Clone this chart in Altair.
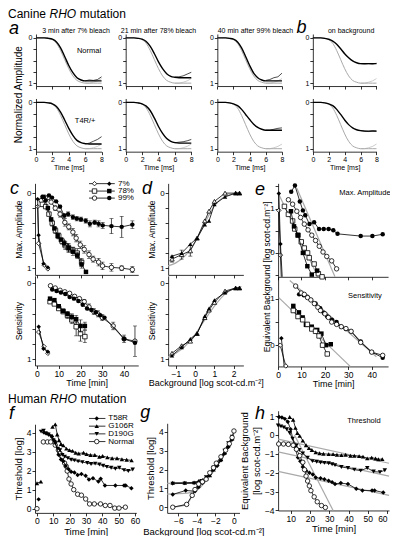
import altair as alt
import pandas as pd

# ===================== DATA =====================
# a / b : normalized waveforms (time in ms, 0 = baseline, 1 = full response)
wave_t = [0, 0.5, 1, 1.5, 2, 2.5, 3, 3.5, 4, 4.5, 5, 5.5, 6, 6.5, 7, 7.5, 8]
wave_grey = [0, 0, 0, 0.01, 0.04, 0.12, 0.28, 0.48, 0.68, 0.84, 0.94, 0.98, 1.0, 1.0, 1.0, 1.0, 1.0]
wave_a1_normal = [0, 0, 0, 0.01, 0.03, 0.09, 0.22, 0.41, 0.61, 0.77, 0.88, 0.93, 0.95, 0.95, 0.95, 0.95, 0.95]
wave_a1_t4r = [0, 0, 0, 0.01, 0.03, 0.09, 0.21, 0.38, 0.56, 0.71, 0.82, 0.87, 0.89, 0.9, 0.9, 0.9, 0.9]
wave_a2_normal = [0, 0, 0, 0.01, 0.03, 0.08, 0.19, 0.35, 0.53, 0.68, 0.79, 0.85, 0.87, 0.88, 0.88, 0.88, 0.88]
wave_a2_t4r = [0, 0, 0, 0.01, 0.03, 0.08, 0.18, 0.34, 0.52, 0.67, 0.78, 0.84, 0.87, 0.88, 0.88, 0.88, 0.88]
wave_a3_normal = [0, 0, 0, 0.01, 0.03, 0.09, 0.22, 0.41, 0.61, 0.78, 0.88, 0.93, 0.95, 0.95, 0.95, 0.95, 0.95]
wave_a3_t4r = [0, 0, 0, 0.01, 0.03, 0.07, 0.15, 0.26, 0.37, 0.47, 0.54, 0.58, 0.6, 0.6, 0.6, 0.6, 0.6]
wave_b_normal = [0, 0, 0, 0.01, 0.03, 0.07, 0.14, 0.24, 0.35, 0.44, 0.51, 0.55, 0.57, 0.57, 0.57, 0.57, 0.57]
wave_b_t4r = [0, 0, 0, 0.01, 0.03, 0.07, 0.15, 0.26, 0.38, 0.48, 0.55, 0.59, 0.61, 0.62, 0.62, 0.62, 0.62]
tail_t = [6, 6.5, 7, 7.5, 8]
tail_grey = [1.0, 1.0, 0.98, 0.95, 0.9]
tail_a1_normal = [0.95, 0.93, 0.94, 0.92, 0.86]
tail_a1_t4r = [0.9, 0.88, 0.84, 0.8, 0.74]
tail_a2_normal = [0.87, 0.86, 0.84, 0.8, 0.76]
tail_a2_t4r = [0.87, 0.86, 0.85, 0.83, 0.8]
tail_a3_normal = [0.94, 0.92, 0.88, 0.86, 0.78]
tail_a3_t4r = [0.6, 0.6, 0.58, 0.56, 0.55]
tail_b_normal = [0.57, 0.58, 0.57, 0.58, 0.56]
tail_b_t4r = [0.61, 0.62, 0.63, 0.61, 0.62]

# c : Max. amplitude (top) and sensitivity (bottom) vs time [min]
c_amp_7f_t = [0.3, 0.75, 3.0, 5.0]
c_amp_7f_v = [0.08, 0.56, 0.94, 0.99]
c_amp_7o_t = [0.3, 0.75, 3.3, 5.0]
c_amp_7o_v = [0.18, 0.67, 0.96, 1.01]
c_amp_78f_t = [3, 5, 6.5, 8, 9.5, 11, 12.5, 14.5, 16.5, 18.5, 20.5, 22.5]
c_amp_78f_v = [0.05, 0.2, 0.35, 0.47, 0.57, 0.62, 0.67, 0.73, 0.78, 0.83, 0.95, 1.05]
c_amp_78f_e = [0, 0, 0, 0, 0.03, 0, 0.04, 0.06, 0.05, 0.04, 0.05, 0]
c_amp_78o_t = [2.5, 4, 5.5, 7, 8.5, 10, 11.5, 13, 14.5, 16.5, 18.5, 20.5]
c_amp_78o_v = [0.15, 0.18, 0.28, 0.4, 0.5, 0.57, 0.64, 0.7, 0.73, 0.76, 0.8, 0.92]
c_amp_78o_e = [0, 0, 0, 0.04, 0.04, 0.04, 0.04, 0.05, 0.05, 0.04, 0.06, 0.05]
c_amp_99f_t = [2.5, 4, 5.5, 6.9, 8.8, 10.6, 12.5, 14.3, 16.5, 18.3, 20.2, 22.4, 24.3, 26.5, 28.3, 30.2, 34.2, 38.9, 43.8]
c_amp_99f_v = [0.05, 0.1, 0.03, 0.06, 0.11, 0.18, 0.3, 0.28, 0.32, 0.34, 0.35, 0.37, 0.41, 0.39, 0.41, 0.43, 0.44, 0.45, 0.42]
c_amp_99f_e = [0, 0, 0, 0, 0, 0.02, 0.03, 0.03, 0.03, 0.03, 0.03, 0.03, 0.04, 0.03, 0.04, 0.04, 0.1, 0.14, 0.05]
c_amp_99o_t = [2, 3.5, 5, 6.5, 8.4, 10.6, 12.8, 14.6, 16.5, 18, 19.9, 21.7, 23.9, 25.8, 28.3, 30.1, 34.2, 38.9, 43.8]
c_amp_99o_v = [0.1, 0.08, 0.06, 0.12, 0.2, 0.28, 0.39, 0.45, 0.52, 0.6, 0.69, 0.75, 0.82, 0.88, 0.92, 0.97, 0.99, 1.0, 1.02]
c_amp_99o_e = [0, 0, 0, 0, 0.03, 0.04, 0.05, 0.04, 0.05, 0.05, 0.05, 0.05, 0.05, 0.04, 0.05, 0.05, 0.05, 0.03, 0.04]

c_sen_7f_t = [0.8, 3.0, 5.0]
c_sen_7f_v = [0.57, 0.86, 0.9]
c_sen_7o_t = [0.8, 3.2, 5.0]
c_sen_7o_v = [0.64, 0.83, 0.92]
c_sen_78f_t = [6, 8, 10, 12, 14, 16, 18, 20, 22]
c_sen_78f_v = [0.2, 0.22, 0.3, 0.36, 0.4, 0.44, 0.47, 0.56, 0.56]
c_sen_78f_e = [0, 0, 0, 0, 0.03, 0.04, 0.05, 0.08, 0.05]
c_sen_78o_t = [6, 8, 10, 12, 14, 16, 18, 20, 22]
c_sen_78o_v = [0.24, 0.27, 0.33, 0.37, 0.42, 0.48, 0.57, 0.66, 0.7]
c_sen_78o_e = [0, 0, 0, 0.03, 0.04, 0.05, 0.12, 0.1, 0.08]
c_sen_99o_t = [6.2, 8.4, 10.6, 12.8, 15, 17.3, 19.5, 21.7, 23.9, 26.1, 28, 30, 35, 40, 45]
c_sen_99o_v = [0.03, 0.06, 0.09, 0.11, 0.13, 0.17, 0.2, 0.24, 0.31, 0.37, 0.4, 0.45, 0.56, 0.73, 0.76]
c_sen_99o_e = [0, 0, 0, 0, 0, 0, 0, 0.03, 0.04, 0.04, 0.04, 0.04, 0.05, 0.05, 0.2]
c_sen_99f_t = [7, 9, 11, 13, 15, 17, 19, 21, 23, 25, 27, 29, 31, 40, 45]
c_sen_99f_v = [0.08, 0.1, 0.12, 0.14, 0.18, 0.2, 0.23, 0.28, 0.33, 0.35, 0.38, 0.42, 0.45, 0.73, 0.78]

# d : vs background [log scot-cd m-2]
d_x = [-1.2, -0.7, -0.25, 0.1, 0.5, 0.72, 1.0, 1.55, 2.1, 2.3]
d_amp_open = [0.88, 0.82, 0.77, 0.6, 0.37, 0.24, 0.11, 0.0, 0.0, 0.0]
d_amp_fill = [0.84, 0.8, 0.68, 0.6, 0.42, 0.37, 0.15, 0.05, 0.0, 0.0]
d_amp_err = [0.04, 0.06, 0.07, 0, 0, 0, 0, 0, 0, 0]
d_sen_open = [0.92, 0.82, 0.76, 0.66, 0.45, 0.35, 0.25, 0.1, 0.06, 0.06]
d_sen_fill = [0.95, 0.84, 0.73, 0.66, 0.43, 0.33, 0.22, 0.12, 0.06, 0.06]
d_fit_x = [-1.4, -1.0, -0.5, 0.0, 0.5, 1.0, 1.5, 2.0, 2.4]
d_fit_amp = [0.97, 0.93, 0.83, 0.65, 0.4, 0.17, 0.05, 0.01, 0.0]
d_fit_sen = [0.97, 0.92, 0.82, 0.67, 0.48, 0.3, 0.15, 0.07, 0.04]

# e : equivalent background [log] vs time [min]
e_amp_7f_t = [0.3, 1.0]
e_amp_7f_v = [1.34, 0.2]
e_amp_7f_line_t = [0.3, 1.0, 1.75]
e_amp_7f_line_v = [1.34, 0.2, -0.54]
e_amp_7o_t = [0.3, 1.0]
e_amp_7o_v = [0.96, -0.05]
e_amp_7o_line_t = [0.3, 1.0, 1.34]
e_amp_7o_line_v = [0.96, -0.05, -0.54]
e_amp_78o_t = [2.7, 4.4, 6.2, 7.1, 8.5, 9.9, 11.2, 12.6, 13.3, 15.4, 17.2, 18.8]
e_amp_78o_v = [1.05, 0.87, 0.72, 0.54, 0.4, 0.25, 0.11, 0.0, -0.11, -0.25, -0.47, -0.54]
e_amp_78f_t = [5.5, 6.8, 8.5, 10.6, 12.5, 14.4, 16.7]
e_amp_78f_v = [0.94, 0.6, 0.4, 0.0, -0.3, -0.49, -0.4]
e_amp_99f_t = [5.6, 7.2, 9.3, 10.6, 11.6, 13.4, 15.4, 17.5, 19.5, 21.6, 23.6, 25.4, 35.3, 40.3, 44.7]
e_amp_99f_v = [1.38, 1.52, 1.16, 0.96, 0.85, 0.65, 0.69, 0.54, 0.54, 0.54, 0.51, 0.43, 0.38, 0.38, 0.42]
e_amp_99o_t = [4.4, 6.2, 8, 9.6, 11.2, 12.8, 14.4, 16, 17.6, 19.2, 20.8, 22.9, 25]
e_amp_99o_v = [1.2, 1.1, 0.94, 0.8, 0.65, 0.52, 0.4, 0.28, 0.15, 0.02, -0.08, -0.18, -0.36]
e_amp_fit78_t = [0.5, 17.0]
e_amp_fit78_v = [1.3, -0.54]
e_amp_fit99_t = [8.0, 24.3]
e_amp_fit99_v = [1.46, -0.54]

e_sen_7f_t = [1.4]
e_sen_7f_v = [0.15]
e_sen_7f_line_t = [1.4, 2.6]
e_sen_7f_line_v = [0.15, -0.46]
e_sen_7o_t = [0.9, 3.3]
e_sen_7o_v = [0.0, -0.45]
e_sen_78f_t = [6.5, 8.9, 10.5, 11.9, 14.4, 16.7, 18.5, 20.5, 22.5]
e_sen_78f_v = [0.85, 0.71, 0.6, 0.44, 0.4, 0.33, 0.25, 0.0, 0.02]
e_sen_78o_t = [6.5, 8.5, 10.5, 12.5, 14.4, 16, 17.5, 19, 21]
e_sen_78o_v = [0.75, 0.62, 0.55, 0.45, 0.35, 0.3, 0.2, 0.0, -0.19]
e_sen_99o_t = [7.5, 9.9, 11.2, 12.6, 14, 15.5, 17, 18.1, 20, 21.5, 22.9, 25, 27, 29, 31.2, 35.3, 40, 44.7]
e_sen_99o_v = [1.28, 1.13, 1.1, 1.03, 0.98, 0.9, 0.82, 0.75, 0.68, 0.6, 0.5, 0.45, 0.4, 0.36, 0.3, 0.06, -0.15, -0.22]
e_sen_99f_t = [9, 11, 12.5, 14, 16, 18, 19.5, 21, 23, 25, 27, 29, 31.2, 35.3, 40, 44.7]
e_sen_99f_v = [1.1, 1.08, 1.05, 0.98, 0.9, 0.8, 0.7, 0.62, 0.55, 0.5, 0.4, 0.35, 0.3, 0.08, -0.15, -0.27]
e_sen_fit78_t = [0.3, 30.8]
e_sen_fit78_v = [1.03, -0.46]
e_sen_fit99_t = [5.0, 42.0]
e_sen_fit99_v = [1.4, -0.25]

# f : human threshold [log] vs time [min]
f_pre_t58_t = [1.0]
f_pre_t58_v = [0.49]
f_pre_g106_t = [0, 2.4]
f_pre_g106_v = [1.34, 1.42]
f_pre_norm_t = [0]
f_pre_norm_v = [0]
f_t58_t = [4.3, 5.7, 7.2, 9.2, 11, 13.2, 14.7, 16.1, 17.6, 19.4, 20.9, 22.9, 24.9, 27.2, 29.8, 31.8, 34.3, 37.6, 39, 41.6, 48, 53.3, 54.3, 57.8]
f_t58_v = [4.0, 3.96, 3.9, 3.8, 3.55, 2.83, 2.59, 2.5, 2.25, 2.08, 1.94, 1.9, 1.77, 1.82, 1.73, 1.53, 1.6, 1.43, 1.57, 1.22, 1.22, 1.22, 1.22, 1.08]
f_g106_t = [9.5, 11.2, 12.4, 13.5, 14.7, 16.1, 18, 19.9, 21.8, 23.7, 25.6, 28.5, 30.4, 32.8, 35.4, 38.2, 40.2, 43.1, 46, 49, 52, 54.9, 57.9]
f_g106_v = [4.3, 4.43, 3.9, 3.6, 3.4, 3.33, 3.16, 3.08, 3.04, 2.94, 2.9, 2.94, 2.87, 2.82, 2.82, 2.73, 2.77, 2.7, 2.65, 2.65, 2.6, 2.57, 2.54]
f_d190_t = [2.5, 4, 5.5, 7, 8.5, 10, 11.2, 12.8, 14.1, 15.5, 17, 18.9, 20.9, 22.9, 25.2, 27.8, 30.8, 33.1, 35.6, 38.2, 40.5, 42.8, 45.4, 48, 50.4, 53.3, 55.9, 58.6]
f_d190_v = [4.05, 4.1, 3.95, 3.9, 3.8, 3.6, 3.42, 3.16, 3.08, 2.83, 2.74, 2.66, 2.57, 2.54, 2.49, 2.45, 2.4, 2.35, 2.37, 2.32, 2.26, 2.2, 2.15, 2.1, 2.15, 2.03, 1.98, 2.06]
f_norm_t = [3.9, 6.4, 8.4, 11.2, 13.1, 14.1, 15.5, 16.9, 17.9, 18.5, 19.6, 20.9, 22.5, 24.9, 27.2, 29.8, 32.2, 35.1, 38.9, 41.8, 44.7, 47.6, 50.2, 54.1]
f_norm_v = [3.51, 3.51, 3.51, 3.34, 3.08, 2.91, 2.74, 2.4, 2.23, 1.98, 1.56, 1.3, 1.0, 0.76, 0.71, 0.51, 0.25, 0.25, 0.25, 0.17, 0.17, 0.03, 0.03, 0.08]

# g : threshold vs background
g_norm_x = [-6.6, -5.1, -4.5, -4.2, -3.8, -3.4, -3.0, -2.6, -2.2, -1.9, -1.4, -0.9, -0.5, -0.2, 0.0]
g_norm_v = [0.0, 0.15, 0.63, 0.94, 1.23, 1.35, 1.49, 1.83, 2.1, 2.34, 2.68, 3.03, 3.37, 3.7, 4.05]
g_t58_x = [-6.6, -5.2, -4.2, -3.8, -3.4, -3.0, -2.6, -2.2, -1.8, -1.4, -1.0, -0.6, -0.2]
g_t58_v = [0.68, 0.89, 0.85, 1.07, 1.3, 1.5, 1.75, 2.0, 2.2, 2.5, 2.85, 3.2, 3.6]
g_g106_x = [-6.6, -5.3, -4.3, -3.8, -3.4, -3.0, -2.6, -2.2, -1.8, -1.4, -1.0, -0.6, -0.2]
g_g106_v = [1.3, 1.3, 1.32, 1.4, 1.45, 1.5, 1.7, 2.0, 2.3, 2.55, 2.9, 3.3, 3.65]
g_d190_x = [-6.6, -5.3, -4.3, -3.5, -3.0, -2.6, -2.2, -1.8, -1.4, -1.0, -0.6, -0.2]
g_d190_v = [1.25, 1.27, 1.27, 1.4, 1.6, 1.8, 2.1, 2.3, 2.6, 3.0, 3.4, 3.75]
g_fit_x = [-7.2, -5.0, -4.0, -3.0, -2.0, -1.0, -0.2]
g_fit_high_v = [1.27, 1.28, 1.32, 1.55, 2.1, 2.9, 3.65]
g_fit_t58_v = [0.7, 0.75, 0.9, 1.4, 2.05, 2.85, 3.6]

# h : equivalent background vs time
h_norm_t = [3.8, 6.3, 8.8, 11.3, 13, 14.7, 16.3, 17.2, 18, 18.8, 19.7, 20.5, 22.2, 23.8, 26, 28]
h_norm_v = [-0.48, -0.48, -0.5, -0.55, -0.76, -1.1, -1.45, -1.84, -2.18, -2.44, -2.7, -2.95, -3.28, -3.54, -3.74, -3.84]
h_t58_t = [4, 5.5, 7, 8.5, 10, 12, 13.8, 15, 16.3, 18, 19.7, 21.5, 23, 25.5, 27.5, 29.7, 31.5, 33, 36, 39.7, 44, 47.2, 52.2, 53.5, 58]
h_t58_v = [0.95, 0.92, 0.85, 0.7, 0.3, -0.6, -1.2, -1.4, -1.7, -1.9, -2.0, -2.1, -2.26, -2.3, -2.35, -2.43, -2.5, -2.6, -2.55, -2.6, -2.85, -2.94, -2.94, -2.94, -3.05]
h_g106_t = [9.5, 11.3, 12.5, 13.5, 14.7, 16.3, 18, 19.5, 21, 23, 25, 27, 29.7, 32, 34, 36.3, 38.5, 41, 43, 45.5, 47.5, 49.7, 52, 54, 55.5, 57.5]
h_g106_v = [0.95, 0.8, 0.37, 0.1, -0.05, -0.3, -0.55, -0.7, -0.8, -0.92, -0.97, -1.0, -1.02, -1.02, -1.05, -1.07, -1.05, -1.1, -1.1, -1.12, -1.15, -1.24, -1.2, -1.25, -1.29, -1.28]
h_d190_t = [3.5, 5, 6.5, 8, 9.5, 11, 13, 14.5, 16.3, 18.8, 21.3, 23.5, 25.5, 27.5, 29.7, 31.5, 33, 36.3, 39.7, 43, 46.3, 49.7, 53, 56.3, 58.8]
h_d190_v = [0.5, 0.45, 0.4, 0.3, 0.1, -0.2, -0.56, -0.8, -0.98, -1.2, -1.39, -1.42, -1.46, -1.48, -1.5, -1.55, -1.6, -1.7, -1.75, -1.84, -1.89, -1.75, -1.94, -1.97, -1.87]
h_fit_g106_t = [3.5, 61]
h_fit_g106_v = [-0.22, -1.5]
h_fit_d190_t = [3.5, 61]
h_fit_d190_v = [-0.9, -2.18]
h_fit_t58_t = [3.5, 61]
h_fit_t58_v = [-1.93, -3.2]
h_fit_fast_t = [12, 32]
h_fit_fast_v = [0.0, -4.0]

# ===================== LAYOUT =====================
FONT = "Liberation Sans"
GREY = "#a9a9a9"
W, H = 382, 528
SX = W / 396.0
SY = H / 548.0


def X(px):
    return (px - 1.0) * SX


def Y(py):
    return (py - 1.0) * SY


ONLY01 = "datum.value == 0 ? '0' : (datum.value == 1 ? '1' : '')"
AX = dict(grid=False, domainColor="black", tickColor="black", labelColor="black",
          titleColor="black", labelFont=FONT, titleFont=FONT, titleFontWeight="normal",
          domainWidth=0.8, tickWidth=0.8, tickSize=3, labelPadding=1,
          labelOverlap=False)


def x_axis(bottom_px, values, show, title, lsize, tsize, flush=False):
    return alt.Axis(orient="bottom", offset=Y(bottom_px) - H, values=values, labels=show,
                    labelFontSize=lsize, titleFontSize=tsize, titlePadding=1, title=title,
                    labelFlush=flush, **AX)


def y_axis(left_px, values, title, lsize, tsize, expr=None):
    kw = dict(AX)
    if expr:
        kw["labelExpr"] = expr
    return alt.Axis(orient="left", offset=-X(left_px), values=values, labelFontSize=lsize,
                    titleFontSize=tsize, titlePadding=3, title=title, labelFlush=False, **kw)


class Panel:
    def __init__(self, xdom, xpx, ydom, ypx, xax, yax):
        self.xs = alt.Scale(domain=xdom, range=[X(xpx[0]), X(xpx[1])], nice=False, zero=False)
        self.ys = alt.Scale(domain=ydom, range=[Y(ypx[0]), Y(ypx[1])], nice=False, zero=False)
        self.xax, self.yax = xax, yax
        self.layers = []

    def add(self, base, ycol="y", **extra):
        first = len(self.layers) == 0
        enc = dict(x=alt.X("x:Q", scale=self.xs, axis=self.xax if first else None),
                   y=alt.Y(ycol + ":Q", scale=self.ys, axis=self.yax if first else None))
        enc.update(extra)
        self.layers.append(base.encode(**enc))

    def line(self, xs, ys, color="black", width=0.8, smooth=False):
        df = pd.DataFrame({"x": xs, "y": ys})
        kw = dict(color=color, strokeWidth=width)
        if smooth:
            kw["interpolate"] = "monotone"
        self.add(alt.Chart(df).mark_line(**kw))

    def points(self, xs, ys, shape, filled, size=20):
        df = pd.DataFrame({"x": xs, "y": ys})
        if filled:
            m = alt.Chart(df).mark_point(shape=shape, filled=True, color="black", size=size, opacity=1)
        else:
            m = alt.Chart(df).mark_point(shape=shape, filled=True, fill="white", stroke="black",
                                         strokeWidth=0.8, size=size, opacity=1)
        self.add(m)

    def errbars(self, xs, ys, es):
        rows = [(x, y - e, y + e) for x, y, e in zip(xs, ys, es) if e > 0]
        if not rows:
            return
        df = pd.DataFrame(rows, columns=["x", "lo", "hi"])
        self.add(alt.Chart(df).mark_rule(color="black", strokeWidth=0.7), ycol="lo", y2=alt.Y2("hi:Q"))
        caps = pd.DataFrame([(x, v) for x, lo, hi in rows for v in (lo, hi)], columns=["x", "y"])
        self.add(alt.Chart(caps).mark_tick(color="black", thickness=0.7, size=4, orient="horizontal"))

    def series(self, t, v, shape, filled, err=None, size=20, lw=0.8):
        if err is not None:
            self.errbars(t, v, err)
        self.line(t, v, width=lw)
        self.points(t, v, shape, filled, size)


layers = []

# ---------- a / b ----------
col_x0 = [30, 123, 218, 317]
col_x1 = [98, 191, 285, 383]
rows_px = [(28, 82), (94.9, 150.1)]
waves = [
    [(wave_a1_normal, tail_a1_normal), (wave_a1_t4r, tail_a1_t4r)],
    [(wave_a2_normal, tail_a2_normal), (wave_a2_t4r, tail_a2_t4r)],
    [(wave_a3_normal, tail_a3_normal), (wave_a3_t4r, tail_a3_t4r)],
    [(wave_b_normal, tail_b_normal), (wave_b_t4r, tail_b_t4r)],
]
for ci in range(4):
    for ri in range(2):
        top, bot = rows_px[ri]
        xa = x_axis(bot, [0, 2, 4, 6, 8], ri == 1, "Time [ms]" if ri == 1 else None, 7, 7)
        ya = y_axis(col_x0[ci], [0, 0.25, 0.5, 0.75, 1], None, 7, 7, ONLY01)
        p = Panel([0, 8], (col_x0[ci], col_x1[ci]), [-0.085, 1.064], (top, bot), xa, ya)
        w, tl = waves[ci][ri]
        p.line(wave_t, wave_grey, color=GREY, width=1.0, smooth=True)
        p.line(tail_t, tail_grey, color=GREY, width=0.6)
        p.line(wave_t, w, width=1.4, smooth=True)
        p.line(tail_t, tl, width=0.7)
        layers.extend(p.layers)

# ---------- c ----------
C_X = ([-0.9, 46.5], (29, 136))
ticks01 = [0, 0.2, 0.4, 0.6, 0.8, 1]
p = Panel(C_X[0], C_X[1], [-0.13, 1.09], (183, 278),
          x_axis(278, [0, 10, 20, 30, 40], False, None, 8, 9),
          y_axis(29, ticks01, "Max. Amplitude", 8, 8.5, ONLY01))
p.series(c_amp_99o_t, c_amp_99o_v, "circle", False, c_amp_99o_e)
p.series(c_amp_99f_t, c_amp_99f_v, "circle", True, c_amp_99f_e)
p.series(c_amp_78o_t, c_amp_78o_v, "square", False, c_amp_78o_e)
p.series(c_amp_78f_t, c_amp_78f_v, "square", True, c_amp_78f_e)
p.series(c_amp_7o_t, c_amp_7o_v, "diamond", False)
p.series(c_amp_7f_t, c_amp_7f_v, "diamond", True)
layers.extend(p.layers)

p = Panel(C_X[0], C_X[1], [-0.1, 1.08], (279, 372),
          x_axis(372, [0, 10, 20, 30, 40], True, "Time [min]", 8.5, 9),
          y_axis(29, ticks01, "Sensitivity", 8, 8.5, ONLY01))
p.series(c_sen_99o_t, c_sen_99o_v, "circle", False, c_sen_99o_e)
p.series(c_sen_99f_t, c_sen_99f_v, "circle", True)
p.series(c_sen_78o_t, c_sen_78o_v, "square", False, c_sen_78o_e)
p.series(c_sen_78f_t, c_sen_78f_v, "square", True, c_sen_78f_e)
p.series(c_sen_7o_t, c_sen_7o_v, "diamond", False)
p.series(c_sen_7f_t, c_sen_7f_v, "diamond", True)
layers.extend(p.layers)

# ---------- d ----------
D_X = ([-1.4, 2.5], (167, 245))
p = Panel(D_X[0], D_X[1], [-0.13, 1.09], (183, 278),
          x_axis(278, [-1, 0, 1, 2], False, None, 8, 9),
          y_axis(167, ticks01, "Max. Amplitude", 8, 8.5, ONLY01))
p.line(d_fit_x, d_fit_amp, color=GREY, width=1.2, smooth=True)
p.series(d_x, d_amp_open, "triangle-up", False, d_amp_err)
p.series(d_x, d_amp_fill, "triangle-up", True)
layers.extend(p.layers)

p = Panel(D_X[0], D_X[1], [-0.1, 1.08], (279, 372),
          x_axis(372, [-1, 0, 1, 2], True, "Background [log scot-cd.m\u207b\u00b2]", 8.5, 9),
          y_axis(167, ticks01, "Sensitivity", 8, 8.5, ONLY01))
p.line(d_fit_x, d_fit_sen, color=GREY, width=1.2, smooth=True)
p.series(d_x, d_sen_open, "triangle-up", False)
p.series(d_x, d_sen_fill, "triangle-up", True)
layers.extend(p.layers)

# ---------- e ----------
E_X = ([0, 47], (281, 395))
ticksE = [-0.5, 0, 0.5, 1, 1.5]
p = Panel(E_X[0], E_X[1], [-0.54, 1.57], (280, 183),
          x_axis(280, [0, 10, 20, 30, 40], False, None, 8, 9),
          y_axis(281, ticksE, None, 8, 9, ONLY01))
p.line(e_amp_fit78_t, e_amp_fit78_v, color=GREY, width=1.2)
p.line(e_amp_fit99_t, e_amp_fit99_v, color=GREY, width=1.2)
p.series(e_amp_99f_t, e_amp_99f_v, "circle", True)
p.series(e_amp_99o_t, e_amp_99o_v, "circle", False)
p.series(e_amp_78o_t, e_amp_78o_v, "square", False)
p.series(e_amp_78f_t, e_amp_78f_v, "square", True)
p.line(e_amp_7o_line_t, e_amp_7o_line_v)
p.points(e_amp_7o_t, e_amp_7o_v, "diamond", False)
p.line(e_amp_7f_line_t, e_amp_7f_line_v)
p.points(e_amp_7f_t, e_amp_7f_v, "diamond", True)
layers.extend(p.layers)

p = Panel(E_X[0], E_X[1], [-0.46, 1.48], (373, 280),
          x_axis(373, [0, 10, 20, 30, 40], True, "Time [min]", 8.5, 9),
          y_axis(281, ticksE, None, 8, 9, ONLY01))
p.line(e_sen_fit78_t, e_sen_fit78_v, color=GREY, width=1.2)
p.line(e_sen_fit99_t, e_sen_fit99_v, color=GREY, width=1.2)
p.series(e_sen_99f_t, e_sen_99f_v, "circle", True)
p.series(e_sen_99o_t, e_sen_99o_v, "circle", False)
p.series(e_sen_78f_t, e_sen_78f_v, "square", True)
p.series(e_sen_78o_t, e_sen_78o_v, "square", False)
p.line(e_sen_7f_line_t, e_sen_7f_line_v)
p.points(e_sen_7f_t, e_sen_7f_v, "diamond", True)
p.series(e_sen_7o_t, e_sen_7o_v, "diamond", False)
layers.extend(p.layers)

# ---------- f ----------
p = Panel([-1.2, 60.8], (29, 134), [-0.22, 4.44], (525, 433),
          x_axis(525, [0, 10, 20, 30, 40, 50, 60], True, "Time [min]", 8.5, 9.5),
          y_axis(29, [0, 1, 2, 3, 4], "Threshold [log]", 8.5, 9.5))
p.series(f_norm_t, f_norm_v, "circle", False)
p.series(f_g106_t, f_g106_v, "triangle-up", True)
p.series(f_d190_t, f_d190_v, "triangle-down", True)
p.series(f_t58_t, f_t58_v, "diamond", True)
p.points(f_pre_norm_t, f_pre_norm_v, "circle", False)
p.series(f_pre_g106_t, f_pre_g106_v, "triangle-up", True)
p.points(f_pre_t58_t, f_pre_t58_v, "diamond", True)
layers.extend(p.layers)

# ---------- g ----------
p = Panel([-7.2, 0.6], (166, 241), [-0.3, 4.46], (525, 432),
          x_axis(525, [-6, -4, -2, 0], True, "Background [log scot-cd.m\u207b\u00b2]", 8.5, 9.5),
          y_axis(166, [0, 1, 2, 3, 4], "Threshold [log]", 8.5, 9.5))
p.line(g_norm_x, g_norm_v, color=GREY, width=1.2, smooth=True)
p.line(g_fit_x, g_fit_high_v, color=GREY, width=1.2, smooth=True)
p.line(g_fit_x, g_fit_t58_v, color=GREY, width=1.2, smooth=True)
p.series(g_g106_x, g_g106_v, "triangle-up", True)
p.series(g_d190_x, g_d190_v, "triangle-down", True)
p.series(g_t58_x, g_t58_v, "diamond", True)
p.series(g_norm_x, g_norm_v, "circle", False)
layers.extend(p.layers)

# ---------- h ----------
p = Panel([3.5, 61], (281, 396), [-4.0, 1.28], (522.5, 419),
          x_axis(522.5, [10, 20, 30, 40, 50, 60], True, "Time [min]", 8.5, 9.5, flush=5),
          y_axis(281, [-4, -3, -2, -1, 0, 1], ["Equivalent Background", "[log scot-cd.m\u207b\u00b2]"], 8.5, 9.5))
p.line(h_fit_g106_t, h_fit_g106_v, color=GREY, width=1.2)
p.line(h_fit_d190_t, h_fit_d190_v, color=GREY, width=1.2)
p.line(h_fit_t58_t, h_fit_t58_v, color=GREY, width=1.2)
p.line(h_fit_fast_t, h_fit_fast_v, color=GREY, width=1.2)
p.series(h_g106_t, h_g106_v, "triangle-up", True)
p.series(h_d190_t, h_d190_v, "triangle-down", True)
p.series(h_t58_t, h_t58_v, "diamond", True)
p.series(h_norm_t, h_norm_v, "circle", False)
layers.extend(p.layers)


# ---------- annotations (layout, in reference pixels) ----------
def texts(rows, size, italic=False, angle=0, align="center", baseline="middle"):
    df = pd.DataFrame(rows, columns=["px", "py", "label"])
    df["px"] = df["px"].map(X)
    df["py"] = df["py"].map(Y)
    kw = dict(font=FONT, fontSize=size, align=align, baseline=baseline, color="black")
    if italic:
        kw["fontStyle"] = "italic"
    if angle:
        kw["angle"] = angle
    return alt.Chart(df).mark_text(**kw).encode(
        x=alt.X("px:Q", scale=None, axis=None), y=alt.Y("py:Q", scale=None, axis=None), text="label:N")


def px_rules(rows):
    df = pd.DataFrame(rows, columns=["x1", "x2", "y"])
    df["x1"] = df["x1"].map(X)
    df["x2"] = df["x2"].map(X)
    df["y"] = df["y"].map(Y)
    return alt.Chart(df).mark_rule(color="black", strokeWidth=0.8).encode(
        x=alt.X("x1:Q", scale=None, axis=None), x2="x2:Q", y=alt.Y("y:Q", scale=None, axis=None))


def px_points(rows, shape, filled, size=20):
    df = pd.DataFrame(rows, columns=["x", "y"])
    df["x"] = df["x"].map(X)
    df["y"] = df["y"].map(Y)
    if filled:
        m = alt.Chart(df).mark_point(shape=shape, filled=True, color="black", size=size, opacity=1)
    else:
        m = alt.Chart(df).mark_point(shape=shape, filled=True, fill="white", stroke="black",
                                     strokeWidth=0.8, size=size, opacity=1)
    return m.encode(x=alt.X("x:Q", scale=None, axis=None), y=alt.Y("y:Q", scale=None, axis=None))


ann = []
ann.append(texts([(1, 11.5, "Canine"), (1, 411, "Human")], 12, align="left", baseline="alphabetic"))
ann.append(texts([(44.0, 11.5, "RHO"), (44.6, 411, "RHO")], 12, italic=True, align="left", baseline="alphabetic"))
ann.append(texts([(75.5, 11.5, "mutation"), (76.1, 411, "mutation")], 12, align="left", baseline="alphabetic"))
ann.append(texts([(2, 28, "a"), (300, 27, "b"), (3, 194, "c"), (140, 194, "d"), (257, 195, "e"),
                  (2, 428, "f"), (138, 427, "g"), (257, 428, "h")], 18, italic=True,
                 align="left", baseline="alphabetic"))
ann.append(texts([(71.5, 25, "3 min after 7% bleach"), (157, 25, "21 min after 78% bleach"),
                  (257.5, 25, "40 min after 99% bleach"), (356.7, 25, "on background")], 7))
ann.append(texts([(85, 46, "Normal"), (81, 118, "T4R/+")], 7.5))
ann.append(texts([(12, 91, "Normalized Amplitude")], 10, angle=270))
ann.append(texts([(371, 193, "Max. Amplitude"), (371, 300, "Sensitivity"), (370, 430, "Threshold")], 7.5))
ann.append(texts([(270, 280, "Equivalent Background [log scot-cd.m\u207b\u00b2]")], 8.5, angle=270))
c_leg_y = [183.3, 191, 198.3]
ann.append(px_rules([(85, 111.7, y) for y in c_leg_y]))
for y, shp in zip(c_leg_y, ["diamond", "square", "circle"]):
    ann.append(px_points([(90.7, y)], shp, False))
    ann.append(px_points([(106, y)], shp, True))
ann.append(texts([(115, c_leg_y[0], "7%"), (115, c_leg_y[1], "78%"), (115, c_leg_y[2], "99%")], 8, align="left"))
f_leg_y = [427, 435, 443, 451]
ann.append(px_rules([(85, 102, y) for y in f_leg_y]))
ann.append(px_points([(93, f_leg_y[0])], "diamond", True))
ann.append(px_points([(93, f_leg_y[1])], "triangle-up", True))
ann.append(px_points([(93, f_leg_y[2])], "triangle-down", True))
ann.append(px_points([(93, f_leg_y[3])], "circle", False))
ann.append(texts([(105, f_leg_y[0], "T58R"), (105, f_leg_y[1], "G106R"), (105, f_leg_y[2], "D190G"),
                  (105, f_leg_y[3], "Normal")], 8, align="left"))

chart = (
    alt.layer(*layers, *ann)
    .resolve_scale(x="independent", y="independent")
    .resolve_axis(x="independent", y="independent")
    .properties(width=W, height=H, autosize=alt.AutoSizeParams(type="none"), padding=0)
    .configure_view(stroke=None)
)
chart.save("out.html", embed_options={"renderer": "svg", "actions": False})
